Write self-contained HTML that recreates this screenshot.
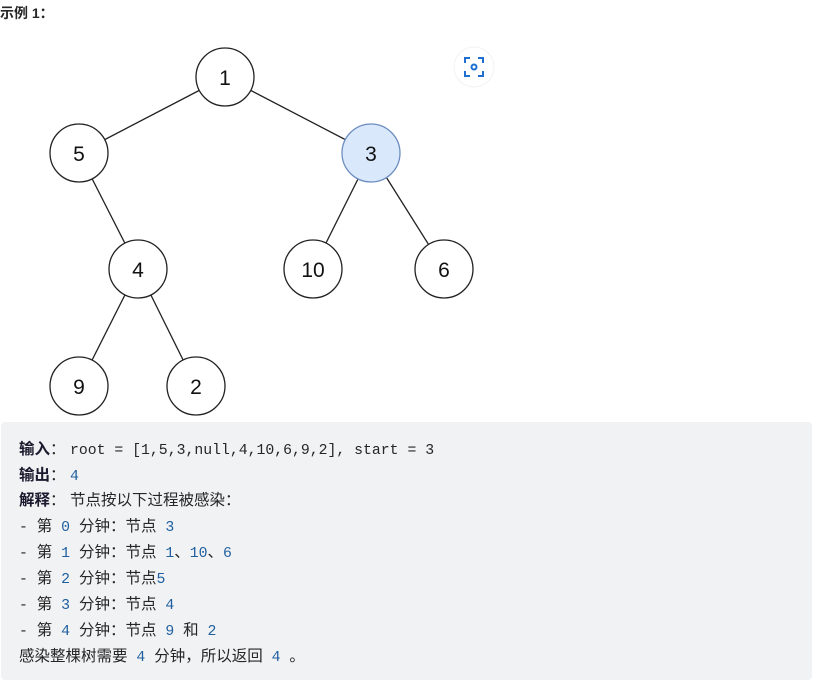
<!DOCTYPE html>
<html><head><meta charset="utf-8"><style>
body{margin:0;width:815px;height:686px;background:#fff;position:relative;overflow:hidden;font-family:"Liberation Sans","Noto Sans CJK SC",sans-serif}
.t{position:absolute;left:0;top:3px;font-size:14px;font-weight:bold;color:#262626}
.box{position:absolute;left:1px;top:422px;width:811px;height:258px;background:#f1f2f4;border-radius:4px}
.ln{position:absolute;left:19px;font-size:15.5px;line-height:20px;color:#262626;font-family:"Noto Sans CJK SC",sans-serif;white-space:pre}
.ln b{color:#1a1a2e}
.m{font-family:"Liberation Mono",monospace;font-size:14.8px}
.c{color:#1f5f9f;font-family:"Liberation Mono",monospace;font-size:14.8px}
.k{display:inline-block;width:20px}
</style></head><body>
<div class="t">示例 1：</div>
<svg width="815" height="420" style="position:absolute;left:0;top:0" font-family="Liberation Sans, sans-serif" font-size="21" text-anchor="middle">
<g stroke="#222" stroke-width="1.3">
<line x1="225" y1="77" x2="79" y2="153"/><line x1="225" y1="77" x2="371" y2="153"/>
<line x1="79" y1="153" x2="138" y2="269"/><line x1="371" y1="153" x2="313" y2="269"/>
<line x1="371" y1="153" x2="444" y2="269"/><line x1="138" y1="269" x2="79" y2="386"/>
<line x1="138" y1="269" x2="196" y2="386"/>
</g>
<g stroke="#222" stroke-width="1.3" fill="#fff">
<circle cx="225" cy="77" r="29"/><circle cx="79" cy="153" r="29"/>
<circle cx="371" cy="153" r="29" fill="#dae8fc" stroke="#6c8ebf"/>
<circle cx="138" cy="269" r="29"/><circle cx="313" cy="269" r="29"/><circle cx="444" cy="269" r="29"/>
<circle cx="79" cy="386" r="29"/><circle cx="196" cy="386" r="29"/>
</g>
<g fill="#111">
<text x="225" y="85">1</text><text x="79" y="161">5</text><text x="371" y="161">3</text>
<text x="138" y="277">4</text><text x="313" y="277">10</text><text x="444" y="277">6</text>
<text x="79" y="394">9</text><text x="196" y="394">2</text>
</g>
<circle cx="474" cy="67" r="20" fill="#fff" stroke="#f2f2f2"/>
<g stroke="#1e6fd0" stroke-width="2" fill="none">
<path d="M465 63v-5h5M478 58h5v5M483 71v5h-5M470 76h-5v-5"/>
<circle cx="474" cy="67" r="2.5"/>
</g>
</svg>
<div class="box"></div>
<div class="ln" style="top:438px"><b>输入</b><span class="k">：</span><span class="m">root = [1,5,3,null,4,10,6,9,2], start = 3</span></div>
<div class="ln" style="top:464px"><b>输出</b><span class="k">：</span><span class="c">4</span></div>
<div class="ln" style="top:489px"><b>解释</b><span class="k">：</span>节点按以下过程被感染：</div>
<div class="ln" style="top:515px"><span class="m">- </span>第<span class="m"> </span><span class="c">0</span><span class="m"> </span>分钟：节点<span class="m"> </span><span class="c">3</span></div>
<div class="ln" style="top:541px"><span class="m">- </span>第<span class="m"> </span><span class="c">1</span><span class="m"> </span>分钟：节点<span class="m"> </span><span class="c">1</span>、<span class="c">10</span>、<span class="c">6</span></div>
<div class="ln" style="top:567px"><span class="m">- </span>第<span class="m"> </span><span class="c">2</span><span class="m"> </span>分钟：节点<span class="c">5</span></div>
<div class="ln" style="top:593px"><span class="m">- </span>第<span class="m"> </span><span class="c">3</span><span class="m"> </span>分钟：节点<span class="m"> </span><span class="c">4</span></div>
<div class="ln" style="top:619px"><span class="m">- </span>第<span class="m"> </span><span class="c">4</span><span class="m"> </span>分钟：节点<span class="m"> </span><span class="c">9</span><span class="m"> </span>和<span class="m"> </span><span class="c">2</span></div>
<div class="ln" style="top:645px">感染整棵树需要<span class="m"> </span><span class="c">4</span><span class="m"> </span>分钟，所以返回<span class="m"> </span><span class="c">4</span><span class="m"> </span>。</div>
</body></html>
